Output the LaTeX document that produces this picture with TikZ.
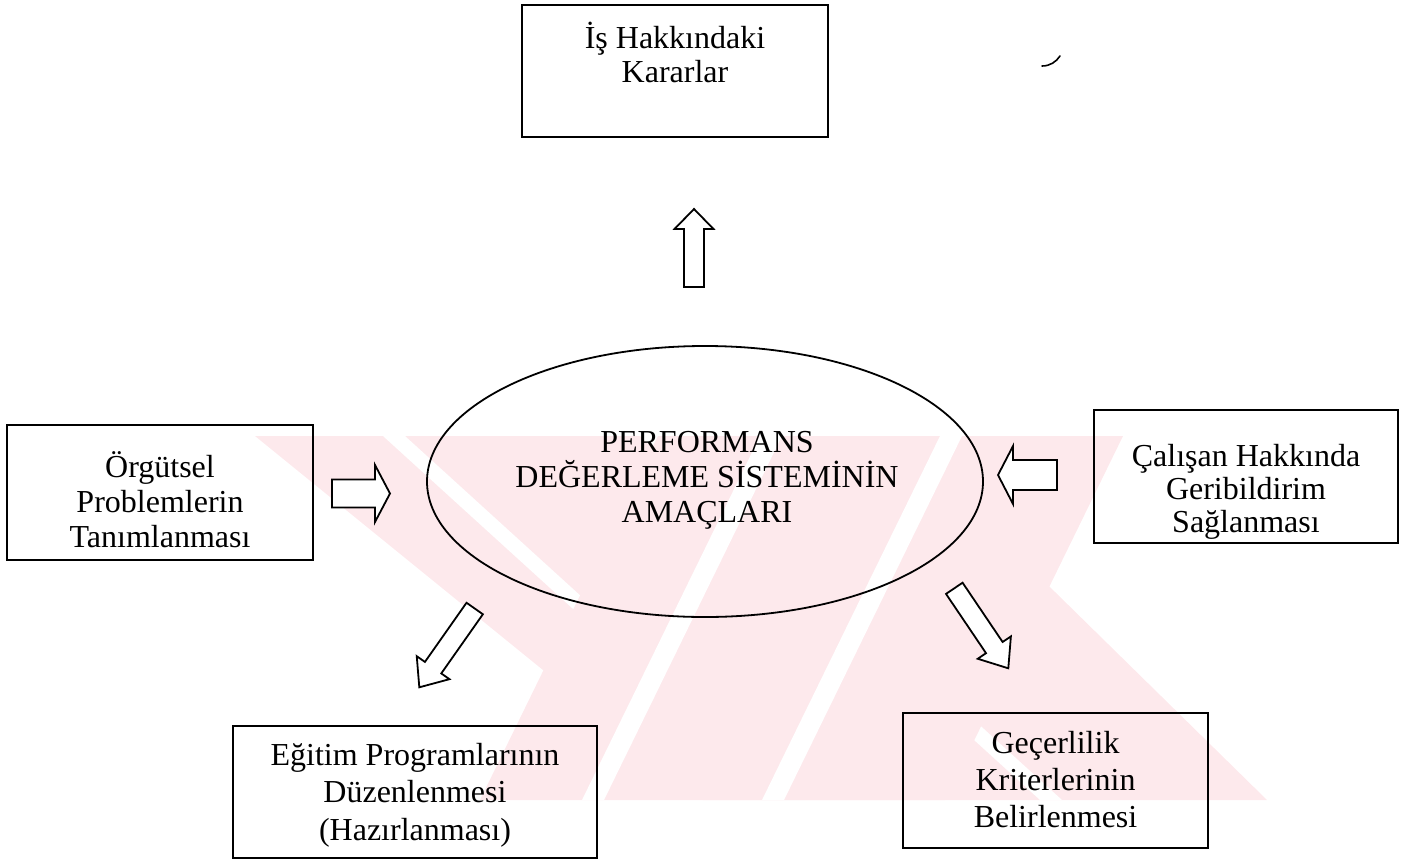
\documentclass[tikz,border=0pt]{standalone}
\usepackage{fontspec}
\setmainfont{Liberation Serif}
\usetikzlibrary{calc,shapes.geometric}

\definecolor{wmpink}{RGB}{253,233,236}

\tikzset{
  box/.style={draw=black, line width=2pt, rectangle, inner sep=0pt},
  goal/.style={draw=black, line width=1.8pt, ellipse, inner sep=0pt},
  lbl/.style={align=center, inner sep=0pt, anchor=base},
  barrow/.style={draw=black, line width=1.8pt, fill=white, line join=miter},
  wm/.style={fill=wmpink, draw=none},
  wmgap/.style={fill=white, draw=none},
}

% block arrow: #1 tail point, #2 tip, #3 half shaft width, #4 half head width, #5 head length
\newcommand{\blockarrow}[5]{%
  \path ($(#2)!#5!(#1)$) coordinate (hb);
  \draw[barrow]
    ($(#1)!#3!90:(#2)$) -- ($(hb)!#3!90:(#2)$) -- ($(hb)!#4!90:(#2)$) -- (#2)
    -- ($(hb)!#4!-90:(#2)$) -- ($(hb)!#3!-90:(#2)$) -- ($(#1)!#3!-90:(#2)$) -- cycle;
}

\begin{document}
\begin{tikzpicture}[x=1pt,y=-1pt]
\useasboundingbox (0,0) rectangle (1401,860);

% faint background emblem
\fill[wm] (255,436) -- (896,436) -- (1267,800) -- (703,800) -- cycle;
\fill[wmgap] (383,436) -- (405,436) -- (805,800) -- (783,800) -- cycle;
\fill[wmgap] (640,436) -- (662,436) -- (1062,800) -- (1040,800) -- cycle;
\fill[wm] (658,436) -- (1123,436) -- (945,800) -- (480,800) -- cycle;
\fill[wmgap] (760,436) -- (782,436) -- (604,800) -- (582,800) -- cycle;
\fill[wmgap] (940,436) -- (962,436) -- (784,800) -- (762,800) -- cycle;

% boxes and the central ellipse
\node[box, minimum width=306, minimum height=132] (karar)   at (675,71) {};
\node[box, minimum width=306, minimum height=135] (orgut)   at (160,492.5) {};
\node[box, minimum width=304, minimum height=133] (calisan) at (1246,476.5) {};
\node[box, minimum width=364, minimum height=132] (egitim)  at (415,792) {};
\node[box, minimum width=305, minimum height=135] (gecer)   at (1055.5,780.5) {};
\node[goal, minimum width=556, minimum height=271] (goal)   at (705,481.5) {};

% texts (anchored at the baseline of the last line)
\node[lbl, font=\fontsize{32}{34}\selectfont] (kararT) at (675,82) {İş Hakkındaki\\Kararlar};
\node[lbl, font=\fontsize{32}{35}\selectfont] (orgutT) at (160,547) {Örgütsel\\Problemlerin\\Tanımlanması};
\node[lbl, font=\fontsize{32}{33}\selectfont] (calisanT) at (1246,532) {Çalışan Hakkında\\Geribildirim\\Sağlanması};
\node[lbl, font=\fontsize{32}{37.5}\selectfont] (egitimT) at (415,840) {Eğitim Programlarının\\Düzenlenmesi\\(Hazırlanması)};
\node[lbl, font=\fontsize{32}{37}\selectfont] (gecerT) at (1055.5,827) {Geçerlilik\\Kriterlerinin\\Belirlenmesi};
\node[lbl, font=\fontsize{32}{35}\selectfont] (goalT) at (707,522) {PERFORMANS\\DEĞERLEME SİSTEMİNİN\\AMAÇLARI};

% arrow end points
\coordinate (upS) at (694,287);      \coordinate (upE) at (694,209);
\coordinate (orS) at (332,493.5);    \coordinate (orE) at (390,493.5);
\coordinate (caS) at (1057,475);     \coordinate (caE) at (998,475);
\coordinate (egS) at (474.7,608.5);  \coordinate (egE) at (419.3,687.3);
\coordinate (geS) at (954.3,588.3);  \coordinate (geE) at (1008.3,668.3);

\blockarrow{upS}{upE}{10pt}{19.5pt}{20pt}
\blockarrow{orS}{orE}{14pt}{28.5pt}{15pt}
\blockarrow{caS}{caE}{15pt}{29pt}{15pt}
\blockarrow{egS}{egE}{10pt}{20pt}{24pt}
\blockarrow{geS}{geE}{10pt}{20pt}{25pt}

% small stray stroke near the top right
\draw[line width=1.6pt, line cap=round] (1042,66) .. controls (1050,66) and (1056,62) .. (1060,56);
\end{tikzpicture}
\end{document}
